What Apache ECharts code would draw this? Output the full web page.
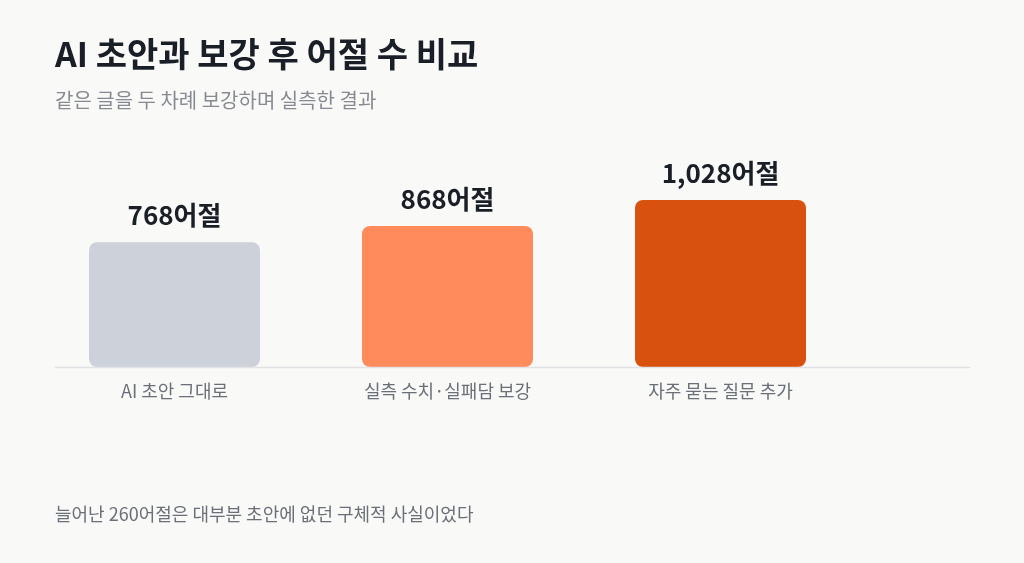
<!DOCTYPE html>
<html><head><meta charset="utf-8">
<script src="https://cdn.jsdelivr.net/npm/echarts@6/dist/echarts.min.js"></script>
<style>html,body{margin:0;padding:0;background:#f9f9f8;}#c{width:1024px;height:563px;}</style>
</head><body><div id="c"></div>
<script>
const categories = ['AI 초안 그대로', '실측 수치·실패담 보강', '자주 묻는 질문 추가'];
const values = [768, 868, 1028];
const barColors = ['#cdd1d9', '#ff8a5b', '#d9510f'];
const titleText = 'AI 초안과 보강 후 어절 수 비교';
const subtitleText = '같은 글을 두 차례 보강하며 실측한 결과';
const footnoteText = '늘어난 260어절은 대부분 초안에 없던 구체적 사실이었다';

const font = '"Noto Sans CJK KR", "Noto Sans", sans-serif';
const chart = echarts.init(document.getElementById('c'));
chart.setOption({
  backgroundColor: '#f9f9f8',
  animation: false,
  textStyle: { fontFamily: font },
  title: [
    { text: titleText, left: 50, top: 32, padding: 5, textStyle: { fontFamily: font, fontSize: 34, fontWeight: 'bold', color: '#1a1e26' } },
    { text: subtitleText, left: 50, top: 85, textStyle: { fontFamily: font, fontSize: 20, fontWeight: 'normal', color: '#878a91' } },
    { text: footnoteText, left: 50, top: 500, textStyle: { fontFamily: font, fontSize: 18, fontWeight: 'normal', color: '#6b6f77' } }
  ],
  grid: { left: 38, right: 167, top: 172, bottom: 196 },
  xAxis: {
    type: 'category', data: categories,
    axisLine: { show: false }, axisTick: { show: false },
    axisLabel: { color: '#6b6f77', fontSize: 18, margin: 15, fontFamily: font }
  },
  yAxis: { type: 'value', min: 0, max: 1200, show: false, splitLine: { show: false } },
  graphic: [
    { type: 'line', shape: { x1: 55, y1: 367.5, x2: 970, y2: 367.5 }, style: { stroke: '#e1e1e6', lineWidth: 1.5 }, z: 10 }
  ],
  series: [{
    type: 'bar',
    data: values.map((v, i) => ({ value: v, itemStyle: { color: barColors[i] } })),
    barWidth: 171,
    itemStyle: { borderRadius: 8 },
    label: {
      show: true, position: 'top', distance: 14,
      formatter: p => p.value.toLocaleString('en-US') + '어절',
      fontSize: 26, fontWeight: 'bold', color: '#1a1e26', fontFamily: font
    }
  }]
});
</script></body></html>
